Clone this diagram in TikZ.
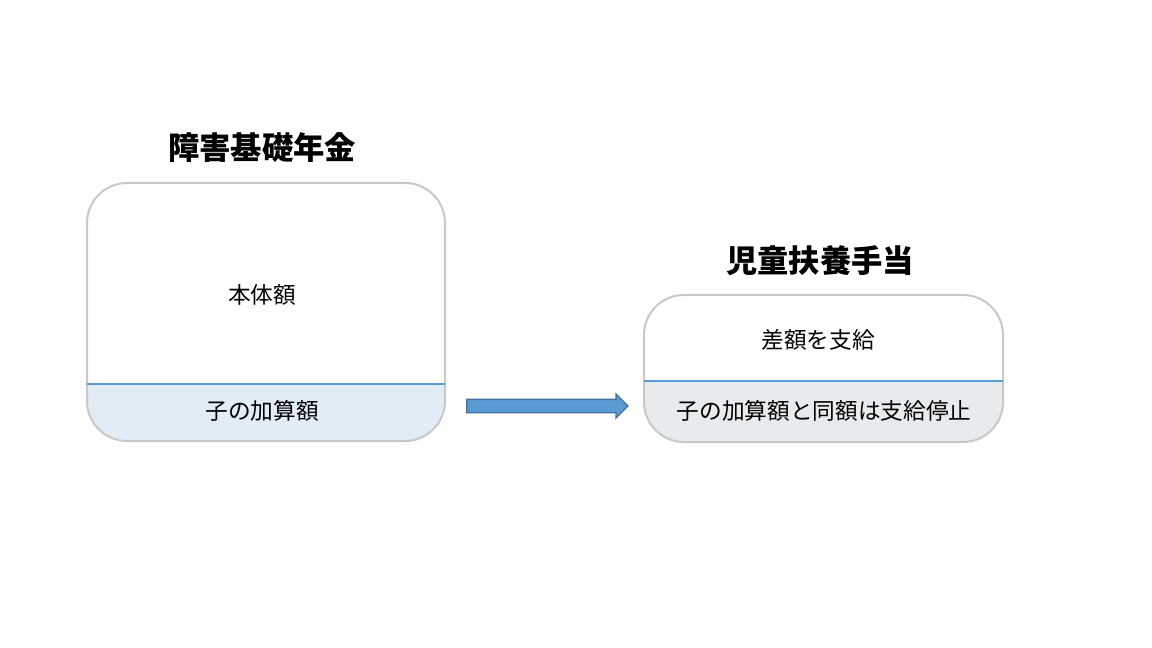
\documentclass[tikz,border=0pt]{standalone}
\usepackage{fontspec}
\setmainfont{Noto Sans CJK JP}
\usetikzlibrary{shapes.arrows}
\definecolor{boxline}{HTML}{C8C8C8}
\definecolor{divline}{HTML}{5B9BD5}
\definecolor{fillA}{HTML}{E2ECF7}
\definecolor{fillB}{HTML}{E8EBEE}
\definecolor{arrfill}{HTML}{5B9BD5}
\definecolor{arrline}{HTML}{41719C}
\tikzset{
  panel/.style={draw=boxline, line width=1.5pt, rounded corners=30pt, inner sep=0pt},
  lowpart/.style 2 args={path picture={
      \fill[#1, sharp corners] (path picture bounding box.south west) rectangle ([yshift=#2]path picture bounding box.south east);
  }},
  divider/.style={draw=divline, line width=0.8pt},
  title/.style={font=\fontsize{23.5pt}{28pt}\selectfont\bfseries},
  body/.style={font=\fontsize{17pt}{20pt}\selectfont},
}
\begin{document}
\begin{tikzpicture}[x=0.75pt,y=-0.75pt]
\useasboundingbox (0,0) rectangle (1152,648);
\node[panel, lowpart={fillA}{43.5pt}, minimum width=268.5pt, minimum height=193.5pt] (lbox) at (266,312) {};
\node[panel, lowpart={fillB}{46.5pt}, minimum width=269.25pt, minimum height=110.25pt] (rbox) at (823.5,368.5) {};
\draw[divider] ([xshift=0.75pt,yshift=43.5pt]lbox.south west) -- ([xshift=-0.75pt,yshift=43.5pt]lbox.south east);
\draw[divider] ([xshift=0.75pt,yshift=46.5pt]rbox.south west) -- ([xshift=-0.75pt,yshift=46.5pt]rbox.south east);
\node[title] (ltitle) at (262,148) {障害基礎年金};
\node[title] (rtitle) at (820,261) {児童扶養手当};
\node[body] (lmain) at (262,295) {本体額};
\node[body] (lsub) at (262,411) {子の加算額};
\node[body] (rmain) at (818,340) {差額を支給};
\node[body] (rsub) at (824,411) {子の加算額と同額は支給停止};
\node[single arrow, draw=arrline, fill=arrfill, line width=1pt, minimum height=121pt, minimum width=17pt, inner xsep=0pt, inner ysep=4.5pt, single arrow head extend=4pt] (arr) at (544,406) {};
\end{tikzpicture}
\end{document}
